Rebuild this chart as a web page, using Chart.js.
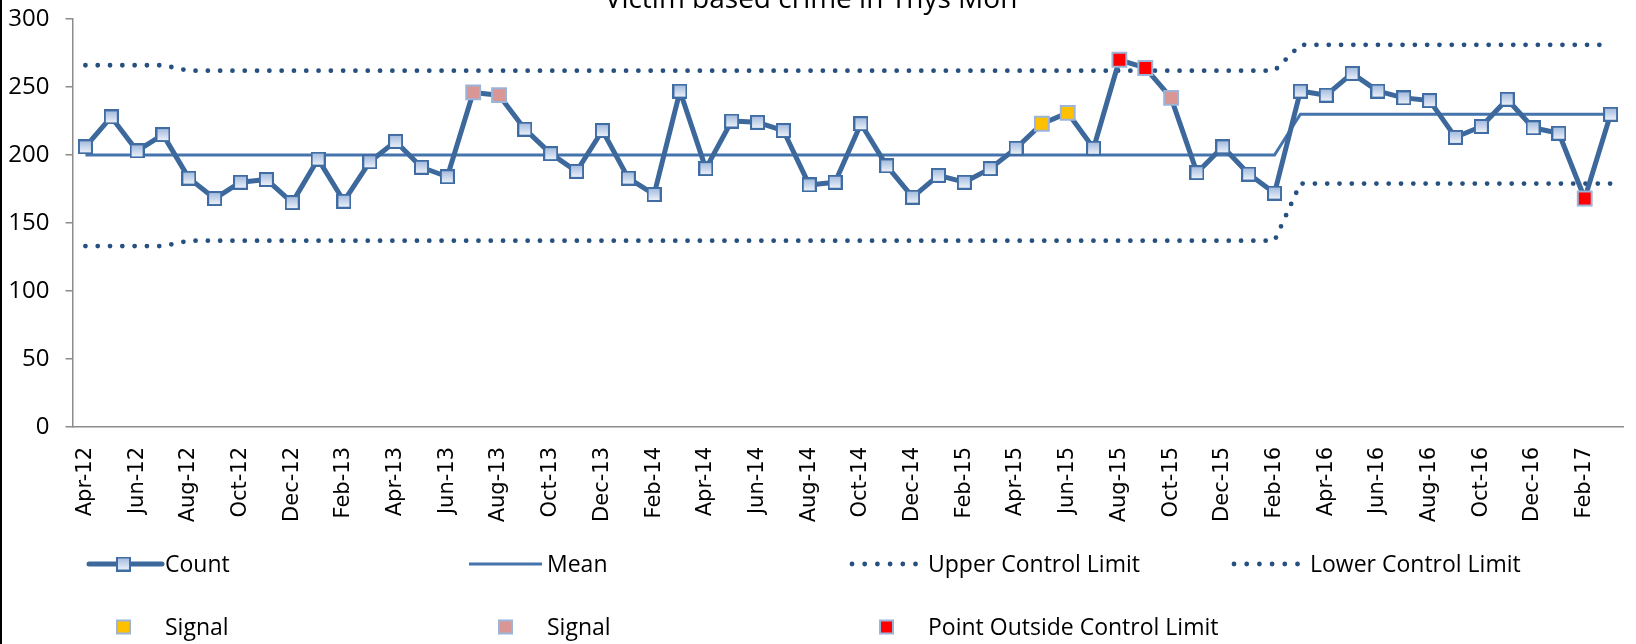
<!DOCTYPE html>
<html>
<head>
<meta charset="utf-8">
<script src="https://cdn.jsdelivr.net/npm/chart.js@4.4.1/dist/chart.umd.min.js"></script>
<style>
  html, body { margin: 0; padding: 0; background: #fff; }
  #wrap { position: relative; width: 1636px; height: 644px; }
</style>
</head>
<body>
<div id="wrap"><canvas id="chartCanvas" width="1636" height="644"></canvas></div>
<script>
// chart data
const chartTitle = 'Victim based crime in Ynys Mon';
const months = [
  'Apr-12','May-12','Jun-12','Jul-12','Aug-12','Sep-12','Oct-12','Nov-12','Dec-12','Jan-13','Feb-13','Mar-13',
  'Apr-13','May-13','Jun-13','Jul-13','Aug-13','Sep-13','Oct-13','Nov-13','Dec-13','Jan-14','Feb-14','Mar-14',
  'Apr-14','May-14','Jun-14','Jul-14','Aug-14','Sep-14','Oct-14','Nov-14','Dec-14','Jan-15','Feb-15','Mar-15',
  'Apr-15','May-15','Jun-15','Jul-15','Aug-15','Sep-15','Oct-15','Nov-15','Dec-15','Jan-16','Feb-16','Mar-16',
  'Apr-16','May-16','Jun-16','Jul-16','Aug-16','Sep-16','Oct-16','Nov-16','Dec-16','Jan-17','Feb-17','Mar-17'
];
const count = [
  206, 228, 203, 215, 183, 168, 180, 182, 165, 197, 166, 195,
  210, 191, 184, 246, 244, 219, 201, 188, 218, 183, 171, 247,
  190, 225, 224, 218, 178, 180, 223, 192, 169, 185, 180, 190,
  205, 223, 231, 205, 270, 264, 242, 187, 206, 186, 172, 247,
  244, 260, 247, 242, 240, 213, 221, 241, 220, 216, 168, 230
];
const mean = [
  200, 200, 200, 200, 200, 200, 200, 200, 200, 200, 200, 200,
  200, 200, 200, 200, 200, 200, 200, 200, 200, 200, 200, 200,
  200, 200, 200, 200, 200, 200, 200, 200, 200, 200, 200, 200,
  200, 200, 200, 200, 200, 200, 200, 200, 200, 200, 200, 230,
  230, 230, 230, 230, 230, 230, 230, 230, 230, 230, 230, 230
];
const upperLimit = [
  266, 266, 266, 266, 262, 262, 262, 262, 262, 262, 262, 262,
  262, 262, 262, 262, 262, 262, 262, 262, 262, 262, 262, 262,
  262, 262, 262, 262, 262, 262, 262, 262, 262, 262, 262, 262,
  262, 262, 262, 262, 262, 262, 262, 262, 262, 262, 262, 281,
  281, 281, 281, 281, 281, 281, 281, 281, 281, 281, 281, 281
];
const lowerLimit = [
  133, 133, 133, 133, 137, 137, 137, 137, 137, 137, 137, 137,
  137, 137, 137, 137, 137, 137, 137, 137, 137, 137, 137, 137,
  137, 137, 137, 137, 137, 137, 137, 137, 137, 137, 137, 137,
  137, 137, 137, 137, 137, 137, 137, 137, 137, 137, 137, 179,
  179, 179, 179, 179, 179, 179, 179, 179, 179, 179, 179, 179
];
const signalAmber = [['May-15', 223], ['Jun-15', 231]];
const signalPink = [['Jul-13', 246], ['Aug-13', 244], ['Oct-15', 242]];
const outsideLimit = [['Aug-15', 270], ['Sep-15', 264], ['Feb-17', 168]];
const yMin = 0, yMax = 300, yStep = 50;

// colours
const countColor = '#3d689c';
const meanColor = '#4574ad';
const limitColor = '#26507f';
const signalBorder = '#9cb4d8';
const axisColor = '#8c8c8c';

// square marker with the light blue gradient
function makeMarker() {
  const c = document.createElement('canvas');
  c.width = 15; c.height = 15;
  const g = c.getContext('2d');
  g.fillStyle = '#3f6ca3';
  g.fillRect(0, 0, 15, 15);
  const grad = g.createLinearGradient(0, 2, 0, 13);
  grad.addColorStop(0, '#a6bde0');
  grad.addColorStop(1, '#e9eff8');
  g.fillStyle = grad;
  g.fillRect(2, 2, 11, 11);
  return c;
}
const countMarker = makeMarker();

function toPoints(list) {
  return list.map(p => ({ x: p[0], y: p[1] }));
}

const signalDataset = (label, list, color) => ({
  label: label,
  data: toPoints(list),
  showLine: false,
  pointStyle: 'rect',
  pointRadius: 9.8,
  pointHoverRadius: 9.8,
  pointBackgroundColor: color,
  pointBorderColor: signalBorder,
  pointBorderWidth: 2,
  order: 1
});

const limitDataset = (label, values) => ({
  label: label,
  data: values,
  borderColor: limitColor,
  borderWidth: 4.8,
  borderDash: [0, 12.3],
  borderCapStyle: 'round',
  pointRadius: 0,
  tension: 0,
  order: 7
});

// title half cut off at the top, like the picture
const titlePlugin = {
  id: 'cutTitle',
  afterDraw(chart) {
    const ctx = chart.ctx;
    ctx.save();
    ctx.fillStyle = '#000';
    ctx.font = '28px "Open Sans"';
    ctx.textAlign = 'center';
    ctx.textBaseline = 'alphabetic';
    ctx.fillText(chartTitle, 811, 8);
    // black frame line on the left
    ctx.fillRect(0, 0, 2, chart.height);
    ctx.restore();
  }
};

// excel style legend: 4 columns, 2 rows
const legendPlugin = {
  id: 'gridLegend',
  afterDraw(chart) {
    const ctx = chart.ctx;
    const cols = [87, 469, 850, 1232];
    const rows = [564, 627];
    const symW = 73;
    ctx.save();
    ctx.font = '23px "Open Sans"';
    ctx.textBaseline = 'middle';
    ctx.textAlign = 'left';

    function text(t, x, y) {
      ctx.fillStyle = '#000';
      ctx.fillText(t, x + 78, y + 1);
    }
    function line(x, y, w, color, cap, dash) {
      ctx.beginPath();
      ctx.strokeStyle = color;
      ctx.lineWidth = w;
      ctx.lineCap = cap;
      ctx.setLineDash(dash || []);
      ctx.moveTo(x, y);
      ctx.lineTo(x + (dash ? 66 : symW), y);
      ctx.stroke();
      ctx.setLineDash([]);
    }
    function square(x, y, color) {
      ctx.fillStyle = signalBorder;
      ctx.fillRect(x - 7.5, y - 7.5, 15, 15);
      ctx.fillStyle = color;
      ctx.fillRect(x - 5.5, y - 5.5, 11, 11);
    }

    // Count
    line(cols[0] + 2, rows[0], 5, countColor, 'round');
    ctx.drawImage(countMarker, cols[0] + 36.5 - 7.5, rows[0] - 7.5);
    text('Count', cols[0], rows[0]);
    // Mean
    line(cols[1], rows[0], 3, meanColor, 'butt');
    text('Mean', cols[1], rows[0]);
    // limits
    line(cols[2] + 2, rows[0], 4.8, limitColor, 'round', [0, 12.7]);
    text('Upper Control Limit', cols[2], rows[0]);
    line(cols[3] + 2, rows[0], 4.8, limitColor, 'round', [0, 12.7]);
    text('Lower Control Limit', cols[3], rows[0]);
    // signals
    square(cols[0] + 36.5, rows[1], '#ffc000');
    text('Signal', cols[0], rows[1]);
    square(cols[1] + 36.5, rows[1], '#d99694');
    text('Signal', cols[1], rows[1]);
    square(cols[2] + 36.5, rows[1], '#ff0000');
    text('Point Outside Control Limit', cols[2], rows[1]);
    ctx.restore();
  }
};

const ctx = document.getElementById('chartCanvas').getContext('2d');
const myChart = new Chart(ctx, {
  type: 'line',
  data: {
    labels: months,
    datasets: [
      signalDataset('Signal', signalAmber, '#ffc000'),
      signalDataset('Signal', signalPink, '#d99694'),
      signalDataset('Point Outside Control Limit', outsideLimit, '#ff0000'),
      {
        label: 'Count',
        data: count,
        borderColor: countColor,
        borderWidth: 5,
        borderJoinStyle: 'round',
        pointStyle: countMarker,
        pointRadius: 7.5,
        tension: 0,
        order: 4
      },
      {
        label: 'Mean',
        data: mean,
        borderColor: meanColor,
        borderWidth: 3,
        pointRadius: 0,
        tension: 0,
        order: 5
      },
      limitDataset('Upper Control Limit', upperLimit),
      limitDataset('Lower Control Limit', lowerLimit)
    ]
  },
  options: {
    responsive: false,
    animation: false,
    events: [],
    layout: { padding: { top: 19, right: 7, left: 0, bottom: 0 } },
    plugins: {
      legend: { display: false },
      title: { display: false },
      tooltip: { enabled: false }
    },
    scales: {
      x: {
        type: 'category',
        offset: true,
        grid: { display: false, drawTicks: false },
        border: { color: axisColor, width: 1.5 },
        ticks: {
          autoSkip: false,
          maxRotation: 90,
          minRotation: 90,
          padding: 20,
          color: '#000',
          font: { family: 'DejaVu Sans', size: 21 },
          callback: function (v, i) { return i % 2 === 0 ? months[i] : ''; }
        },
        afterFit(scale) {
          scale.height = 217;
          scale.paddingLeft = 0;
          scale.paddingRight = 0;
        }
      },
      y: {
        min: yMin,
        max: yMax,
        grid: { drawOnChartArea: false, drawTicks: true, tickLength: 7, color: axisColor, lineWidth: 1.5 },
        border: { color: axisColor, width: 1.5 },
        ticks: {
          stepSize: yStep,
          padding: 16,
          color: '#000',
          font: { family: 'Open Sans', size: 24 }
        },
        afterFit(scale) {
          scale.width = 72.5;
          // keep the plot top at the layout padding
          scale.paddingTop = 0;
          scale.paddingBottom = 0;
        }
      }
    }
  },
  plugins: [titlePlugin, legendPlugin]
});
</script>
</body>
</html>
